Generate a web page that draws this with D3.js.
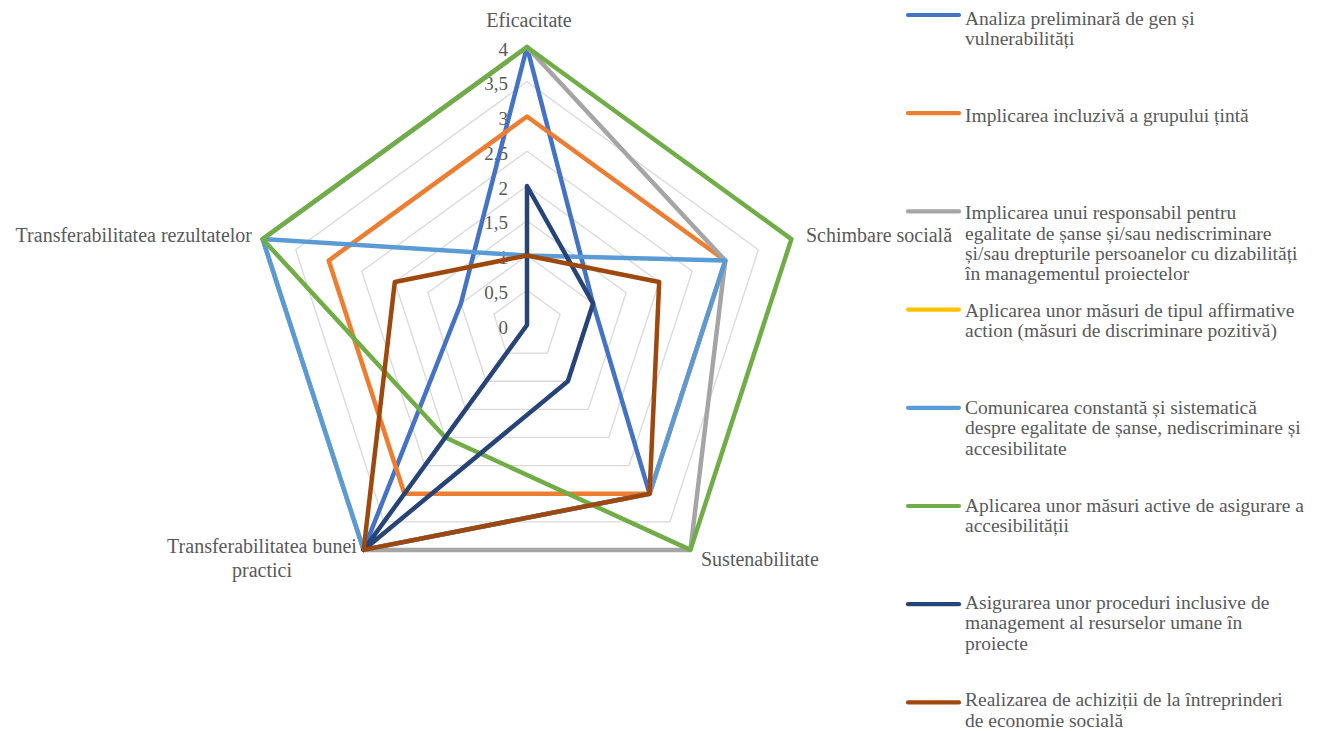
<!DOCTYPE html>
<html>
<head>
<meta charset="utf-8">
<script src="https://cdn.jsdelivr.net/npm/d3@7"></script>
<style>
  body { margin: 0; background: #fff; }
  svg text { font-family: "Liberation Serif", "DejaVu Serif", serif; fill: #595959; }
</style>
</head>
<body>
<svg id="chart" width="1328" height="731"></svg>
<script>
// axes of the radar, clockwise from the top
const categories = ["Eficacitate", "Schimbare socială", "Sustenabilitate",
                    "Transferabilitatea bunei practici", "Transferabilitatea rezultatelor"];
const ticks = [0, 0.5, 1, 1.5, 2, 2.5, 3, 3.5, 4];
const tickLabels = ["0", "0,5", "1", "1,5", "2", "2,5", "3", "3,5", "4"];

// series names (legend lines as wrapped in the original)
const seriesNames = [
    ["Analiza preliminară de gen și", "vulnerabilități"],
    ["Implicarea incluzivă a grupului țintă"],
    ["Implicarea unui responsabil pentru", "egalitate de șanse și/sau nediscriminare",
     "și/sau drepturile persoanelor cu dizabilități", "în managementul proiectelor"],
    ["Aplicarea unor măsuri de tipul affirmative", "action (măsuri de discriminare pozitivă)"],
    ["Comunicarea constantă și sistematică", "despre egalitate de șanse, nediscriminare și", "accesibilitate"],
    ["Aplicarea unor măsuri active de asigurare a", "accesibilității"],
    ["Asigurarea unor proceduri inclusive de", "management al resurselor umane în", "proiecte"],
    ["Realizarea de achiziții de la întreprinderi", "de economie socială"]
];
const seriesColors = ["#4472C4", "#ED7D31", "#A5A5A5", "#FFC000", "#5B9BD5", "#70AD47", "#264478", "#9E480E"];

// values per series, in category order (affirmative action has no values)
const analiza       = [4, 1, 3, 4, 1];
const implicarea    = [3, 3, 3, 3, 3];
const responsabil   = [4, 3, 4, 4, 4];
const affirmative   = null;
const comunicarea   = [1, 3, 3, 4, 4];
const accesibilitate = [4, 4, 4, 2, 4];
const proceduri     = [2, 1, 1, 4, 0];
const achizitii     = [1, 2, 3, 4, 2];
const seriesValues = [analiza, implicarea, responsabil, affirmative, comunicarea, accesibilitate, proceduri, achizitii];

let svg = d3.select("#chart");
let cx = 527, cy = 325;

let r = d3.scaleLinear().domain([0, 4]).range([0, 278]);
let angle = d3.scaleLinear().domain([0, categories.length]).range([0, 2 * Math.PI]);

function point(v, i) {
    let a = angle(i);
    return [cx + r(v) * Math.sin(a), cy - r(v) * Math.cos(a)];
}

let g = svg.append("g");

// grid rings
let ring = d3.line().curve(d3.curveLinearClosed);
g.selectAll(".ring")
 .data(ticks.filter(t => t > 0))
 .enter()
 .append("path")
 .attr("d", function (t) {
     return ring(categories.map((c, i) => point(t, i)));
 })
 .attr("fill", "none")
 .attr("stroke", "#D9D9D9")
 .attr("stroke-width", 1.3);

// tick labels
g.selectAll(".tick")
 .data(ticks)
 .enter()
 .append("text")
 .attr("x", cx - 19)
 .attr("y", d => cy - r(d) + 2)
 .attr("dy", "0.35em")
 .attr("text-anchor", "end")
 .style("font-size", "19px")
 .text((d, i) => tickLabels[i]);

// series
seriesValues.forEach(function (vals, s) {
    if (!vals) return;
    g.append("path")
     .attr("d", ring(vals.map((v, i) => point(v, i))))
     .attr("fill", "none")
     .attr("stroke", seriesColors[s])
     .attr("stroke-width", 4.5)
     .attr("stroke-linejoin", "round");
});

// category labels
let catPos = [
    {x: 529, y: 27, anchor: "middle"},
    {x: 806, y: 242, anchor: "start"},
    {x: 701, y: 566, anchor: "start"},
    {x: 262, y: 553, anchor: "middle"},
    {x: 252, y: 242, anchor: "end"}
];
let catLines = [["Eficacitate"], ["Schimbare socială"], ["Sustenabilitate"],
                ["Transferabilitatea bunei", "practici"], ["Transferabilitatea rezultatelor"]];
categories.forEach(function (c, i) {
    let t = svg.append("text")
               .attr("x", catPos[i].x)
               .attr("y", catPos[i].y)
               .attr("text-anchor", catPos[i].anchor)
               .style("font-size", "20px");
    catLines[i].forEach(function (line, k) {
        t.append("tspan")
         .attr("x", catPos[i].x)
         .attr("dy", k === 0 ? 0 : 24)
         .text(line);
    });
});

// legend
let legend = svg.append("g").attr("transform", "translate(905,0)");
let item = legend.selectAll(".item")
                 .data(seriesNames)
                 .enter()
                 .append("g");
item.append("line")
    .attr("x1", 3).attr("x2", 54)
    .attr("y1", (d, i) => 15 + i * 98.2)
    .attr("y2", (d, i) => 15 + i * 98.2)
    .attr("stroke", (d, i) => seriesColors[i])
    .attr("stroke-width", 4.2)
    .attr("stroke-linecap", "round");
item.append("text")
    .style("font-size", "19.5px")
    .each(function (lines, i) {
        let t = d3.select(this);
        lines.forEach(function (line, k) {
            t.append("tspan")
             .attr("x", 60)
             .attr("y", 24.5 + i * 97.4 + k * 20.3)
             .text(line);
        });
    });
</script>
</body>
</html>
